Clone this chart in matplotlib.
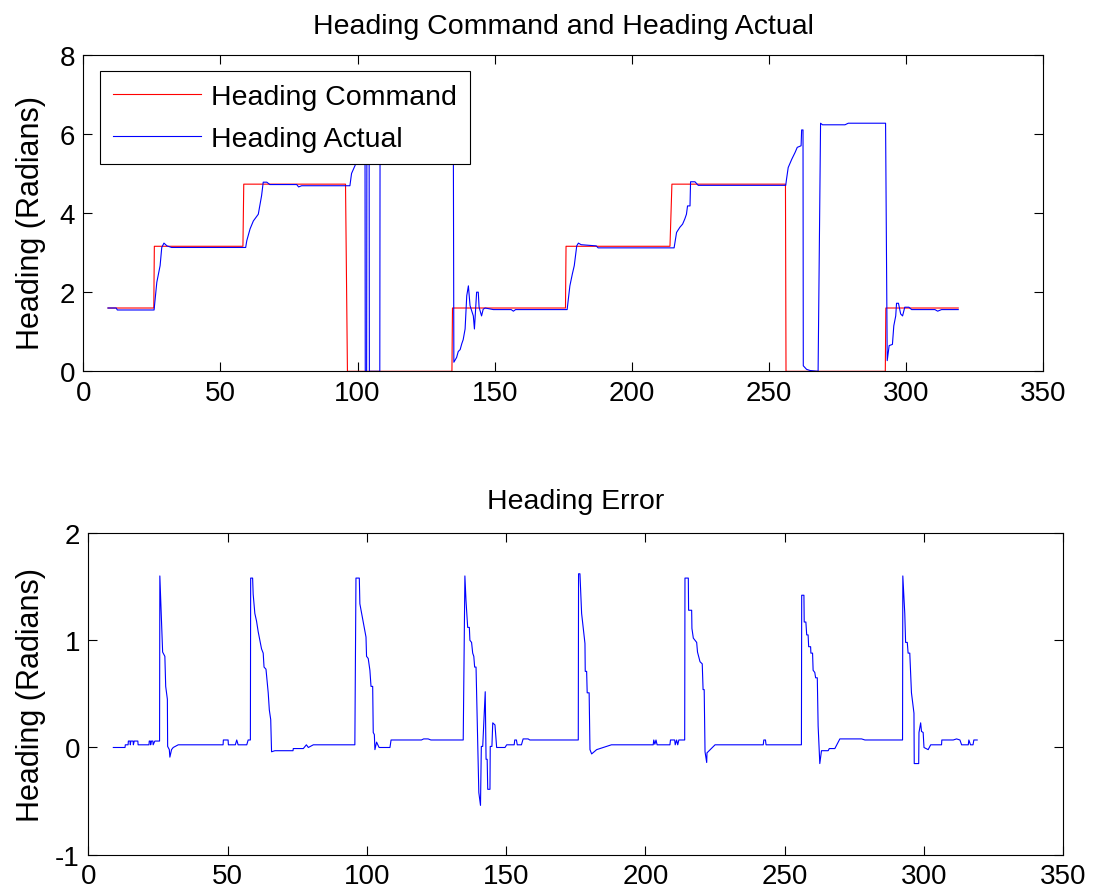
import matplotlib
matplotlib.use("Agg")
import matplotlib.pyplot as plt

plt.rcParams["font.family"] = ["Liberation Sans", "DejaVu Sans"]
plt.rcParams["axes.unicode_minus"] = False

# Heading command (rad), step profile
cmd_t = [9.0, 25.7, 25.9, 58.2, 58.5, 95.6, 96.3, 134.4, 134.6, 175.8, 176.0,
         213.9, 214.6, 256.0, 256.2, 292.4, 292.6, 319.0]
cmd_v = [1.60, 1.60, 3.16, 3.16, 4.73, 4.73, 0.0, 0.0, 1.60, 1.60, 3.16,
         3.16, 4.73, 4.73, 0.0, 0.0, 1.60, 1.60]

# Measured heading (rad)
act_t = [9.0, 12.0, 12.4, 25.8, 26.8, 28.0, 28.6, 29.4, 30.5, 32.2,
         59.2, 59.6, 60.8, 62.0, 63.8, 65.0, 65.6, 66.9, 68.0, 77.8, 78.5, 79.6,
         97.2, 97.8, 99.7, 101.0, 102.0, 102.7, 102.8, 103.3, 103.4, 104.2, 104.3,
         108.1, 108.2, 134.9, 135.1, 136.1, 136.7, 137.4, 138.0, 138.5, 139.2,
         139.8, 140.4, 141.0, 142.2, 142.6, 143.4, 144.0, 144.3, 145.2, 145.8,
         146.5, 149.5, 156.0, 156.8, 157.6, 176.4, 177.4, 178.3, 179.0, 179.9,
         180.5, 181.5, 187.0, 187.7, 215.4, 216.3, 217.5, 218.5, 219.3, 219.9,
         220.3, 221.2, 221.4, 223.0, 224.2, 256.1, 256.4, 257.0, 258.3, 259.5,
         260.3, 261.7, 261.9, 262.4, 262.5, 263.7, 265.0, 267.9, 268.8, 269.5,
         277.7, 278.9, 292.5, 293.1, 293.8, 295.0, 295.5, 296.2, 296.5, 297.2,
         298.0, 298.7, 299.5, 301.0, 302.0, 310.5, 311.5, 312.9, 319.0]
act_v = [1.60, 1.60, 1.55, 1.55, 2.25, 2.67, 3.13, 3.24, 3.17, 3.13,
         3.13, 3.30, 3.60, 3.80, 3.97, 4.44, 4.78, 4.78, 4.72, 4.72, 4.66, 4.69,
         4.69, 5.00, 5.30, 5.70, 6.00, 6.20, 0.0, 0.0, 6.20, 6.20, 0.0,
         0.0, 6.23, 6.23, 0.23, 0.35, 0.50, 0.55, 0.70, 0.80, 1.07,
         1.91, 2.16, 1.66, 1.40, 1.07, 2.00, 2.00, 1.62, 1.40, 1.57,
         1.60, 1.56, 1.56, 1.52, 1.56, 1.56, 2.16, 2.46, 2.67, 3.17,
         3.24, 3.20, 3.17, 3.12, 3.12, 3.51, 3.64, 3.72, 3.85, 3.97,
         4.18, 4.18, 4.79, 4.79, 4.70, 4.70, 4.86, 5.15, 5.36, 5.53,
         5.66, 5.70, 6.10, 6.10, 0.14, 0.05, 0.02, 0.0, 6.27, 6.23,
         6.23, 6.27, 6.27, 0.27, 0.65, 0.68, 1.15, 1.40, 1.72, 1.72,
         1.45, 1.40, 1.62, 1.62, 1.56, 1.56, 1.52, 1.56, 1.56]

# Heading error (rad)
err_t = [9.0, 13.2, 13.3, 14.3, 14.4, 15.0, 15.1, 15.3, 16.1, 16.2, 16.5, 17.8,
         17.9, 21.8, 21.9, 22.3, 22.4, 22.7, 23.2, 23.3, 23.9, 25.6,
         25.7, 26.3, 26.7, 27.5, 27.8, 28.4, 28.5, 29.1, 29.3, 29.9, 30.5,
         32.3, 48.4, 48.5, 50.2, 50.3, 52.8, 53.3, 53.8, 56.9, 57.4, 58.2,
         58.3, 59.0, 59.2, 59.8, 60.4, 61.0, 61.6, 62.2, 62.8, 63.1, 63.8,
         64.6, 65.0, 65.5, 65.8, 67.0, 73.5, 73.6, 77.2, 78.3, 79.0, 80.8,
         95.7, 96.1, 97.3, 97.5, 98.5, 99.7, 99.9, 100.5, 101.1, 101.5,
         102.1, 102.3, 102.7, 102.9, 103.5, 104.4, 108.3, 108.7, 119.6,
         120.4, 122.0, 123.0, 134.6, 135.2, 135.6, 136.2, 136.8, 137.0,
         137.6, 138.0, 138.4, 138.7, 139.2, 140.2, 140.8, 141.1, 141.6,
         142.5, 142.8, 143.2, 143.4, 144.2, 144.3, 144.9, 145.2, 146.0,
         146.6, 149.6, 150.2, 152.9, 153.1, 153.7, 154.0, 155.5, 156.1,
         157.9, 158.5, 175.9, 176.0, 176.5, 177.1, 178.3, 178.4, 178.9,
         179.1, 179.8, 180.1, 180.7, 182.5, 184.8, 187.8, 202.8, 203.0,
         203.4, 203.8, 204.2, 208.8, 209.0, 210.5, 210.7, 211.2, 211.6,
         212.0, 214.1, 214.2, 215.4, 215.5, 216.6, 216.7, 217.2, 218.4,
         218.7, 219.6, 220.4, 220.7, 221.1, 221.4, 222.0, 222.1, 225.0,
         242.3, 242.5, 243.1, 243.3, 256.0, 256.1, 256.9, 257.0, 257.6,
         257.9, 258.4, 258.6, 259.3, 259.4, 260.0, 260.2, 260.8, 261.1,
         261.7, 262.0, 262.6, 263.2, 265.6, 266.0, 268.0, 269.2, 269.8,
         277.6, 278.8, 292.3, 292.4, 293.1, 293.4, 294.0, 294.3, 294.9,
         295.5, 296.4, 296.5, 298.1, 298.2, 298.8, 299.1, 299.7, 300.0,
         301.5, 302.4, 306.3, 306.4, 310.5, 311.7, 312.9, 313.5, 315.9,
         316.1, 316.7, 317.6, 317.9, 319.1]
err_v = [0.0, 0.0, 0.025, 0.025, 0.06, 0.06, 0.025, 0.06, 0.06, 0.025, 0.06, 0.06,
         0.025, 0.025, 0.06, 0.06, 0.025, 0.06, 0.06, 0.025, 0.06, 0.06,
         1.60, 1.18, 0.89, 0.85, 0.57, 0.45, 0.01, -0.02, -0.09, -0.02, 0.0,
         0.025, 0.025, 0.07, 0.07, 0.025, 0.025, 0.07, 0.025, 0.025, 0.07, 0.07,
         1.58, 1.58, 1.43, 1.25, 1.18, 1.08, 1.00, 0.92, 0.88, 0.75, 0.73,
         0.51, 0.35, 0.26, -0.04, -0.03, -0.03, -0.01, -0.01, 0.025, 0.0, 0.025,
         0.025, 1.58, 1.58, 1.34, 1.20, 1.03, 0.85, 0.83, 0.72, 0.57,
         0.57, 0.14, 0.12, -0.02, 0.05, 0.0, 0.0, 0.07, 0.07,
         0.08, 0.08, 0.07, 0.07, 1.60, 1.37, 1.12, 1.12, 1.00,
         0.98, 0.88, 0.85, 0.75, 0.75, -0.42, -0.54, 0.01, 0.01,
         0.52, -0.11, -0.11, -0.39, -0.39, 0.01, 0.01, 0.23, 0.21,
         0.0, 0.0, 0.025, 0.025, 0.07, 0.07, 0.025, 0.025, 0.08,
         0.08, 0.07, 0.07, 1.62, 1.62, 1.25, 0.97, 0.71, 0.71,
         0.51, 0.51, -0.02, -0.06, -0.02, 0.0, 0.025, 0.025, 0.07,
         0.03, 0.07, 0.025, 0.025, 0.07, 0.07, 0.025, 0.07, 0.025,
         0.07, 0.07, 1.58, 1.58, 1.28, 1.28, 1.11, 1.02, 0.98,
         0.89, 0.80, 0.78, 0.54, 0.54, -0.04, -0.14, -0.05, 0.025,
         0.025, 0.07, 0.07, 0.025, 0.025, 1.42, 1.42, 1.17, 1.17,
         1.05, 1.05, 0.94, 0.94, 0.88, 0.88, 0.72, 0.70, 0.65,
         0.65, 0.20, -0.15, -0.03, -0.03, -0.01, -0.01, 0.05, 0.08,
         0.08, 0.07, 0.07, 1.60, 1.25, 0.98, 0.98, 0.88, 0.88,
         0.51, 0.32, -0.15, -0.15, 0.14, 0.23, 0.15, 0.14, 0.0,
         -0.02, 0.025, 0.025, 0.07, 0.07, 0.08, 0.07, 0.025, 0.025,
         0.07, 0.025, 0.025, 0.07, 0.07]

x_ticks = [0, 50, 100, 150, 200, 250, 300, 350]
top_yticks = [0, 2, 4, 6, 8]
bot_yticks = [-1, 0, 1, 2]


def style_axes(ax):
    """MATLAB-like box axes with inward ticks on every side."""
    for s in ax.spines.values():
        s.set_linewidth(0.8)
        s.set_color("black")
    ax.tick_params(direction="in", length=6.5, width=0.8, top=True, right=True,
                   labelsize=20, pad=6)


fig = plt.figure(figsize=(10.99, 8.95), dpi=100)

ax1 = fig.add_axes([0.0758, 0.584, 0.8735, 0.3537])
ax1.plot(cmd_t, cmd_v, color="red", lw=0.8, label="Heading Command")
ax1.plot(act_t, act_v, color="blue", lw=0.8, label="Heading Actual")
ax1.set_xlim(0, 350)
ax1.set_ylim(0, 8)
ax1.set_xticks(x_ticks)
ax1.set_yticks(top_yticks)
ax1.set_title("Heading Command and Heading Actual", fontsize=20.5, pad=16)
ax1.set_ylabel("Heading (Radians)", fontsize=22)
ax1.yaxis.set_label_coords(-0.039, 0.473)
style_axes(ax1)
leg = ax1.legend(loc="upper left", bbox_to_anchor=(0.0174, 0.9485), fontsize=20.5,
                 fancybox=False, framealpha=1, edgecolor="black",
                 borderpad=0.45, handlelength=3.1, handletextpad=0.35,
                 labelspacing=0.55, borderaxespad=0)
leg.get_frame().set_linewidth(0.8)

ax2 = fig.add_axes([0.0803, 0.0439, 0.8872, 0.3594])
ax2.plot(err_t, err_v, color="blue", lw=0.8)
ax2.set_xlim(0, 350)
ax2.set_ylim(-1, 2)
ax2.set_xticks(x_ticks)
ax2.set_yticks(bot_yticks)
ax2.set_title("Heading Error", fontsize=20.5, pad=18)
ax2.set_ylabel("Heading (Radians)", fontsize=22)
ax2.yaxis.set_label_coords(-0.0435, 0.5)
style_axes(ax2)

fig.savefig("out.png", dpi=100)
